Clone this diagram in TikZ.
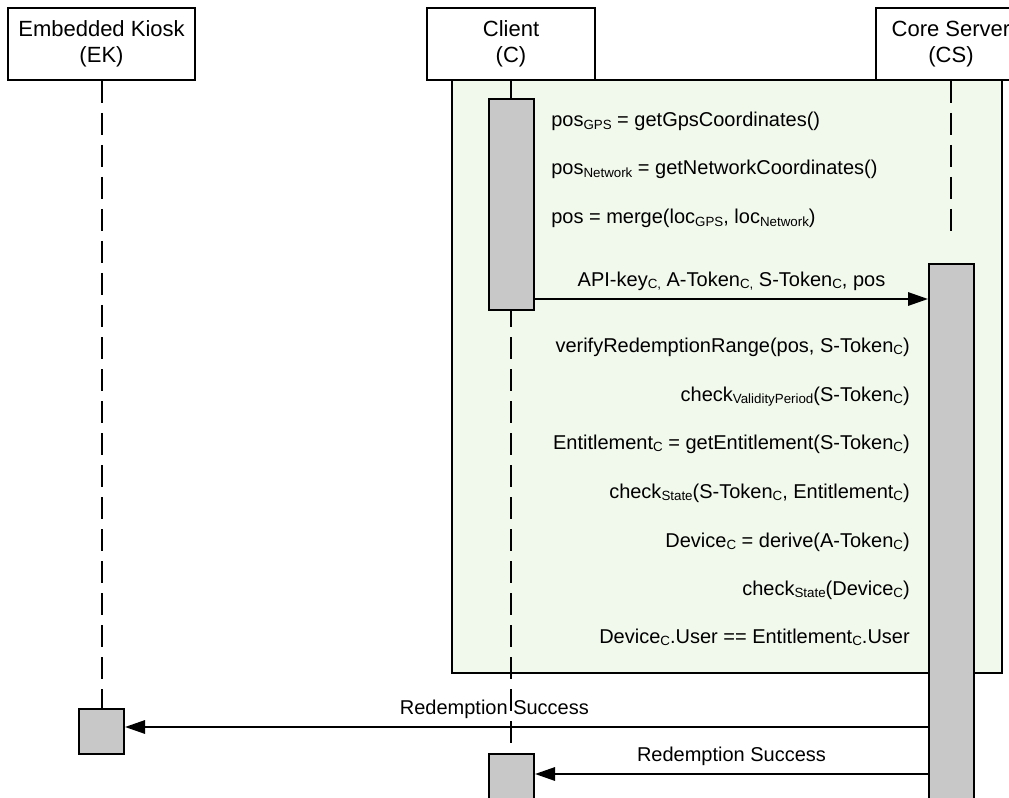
\documentclass[tikz,border=0pt]{standalone}
\usepackage{fontspec}
\setmainfont{Liberation Sans}
\usetikzlibrary{arrows.meta,positioning,backgrounds}
\definecolor{framegreen}{RGB}{241,248,236}
\definecolor{actgray}{RGB}{200,200,200}
\newcommand\sbs[1]{\raisebox{-2pt}{\fontsize{10}{10}\selectfont #1}}
\tikzset{
  head/.style   = {draw, line width=1.5pt, fill=white, align=center, minimum height=54pt,
                   inner sep=0pt, font=\fontsize{16.5}{19.5}\selectfont},
  act/.style    = {draw, line width=1.5pt, fill=actgray, minimum width=33.75pt, inner sep=0pt},
  life/.style   = {line width=1.5pt, dash pattern=on 16.5pt off 7.5pt},
  msg/.style    = {line width=1.5pt, -{Triangle[length=15pt,width=10pt]}},
  lbl/.style    = {font=\fontsize{15}{18}\selectfont, inner sep=0pt},
  mlabel/.style = {lbl, anchor=base, yshift=9.5pt},
  group/.style  = {draw, line width=1.5pt, fill=framegreen},
}

\begin{document}
\begin{tikzpicture}[x=0.75pt, y=-0.75pt]
  \useasboundingbox (0,0) rectangle (1009,798);

  % participants
  \node[head, minimum width=140.25pt] (hEK) at (101.5,44) {Embedded Kiosk\\(EK)};
  \node[head, minimum width=126pt]    (hC)  at (511,44)   {Client\\(C)};
  \node[head, minimum width=112.5pt]  (hCS) at (951,44)   {Core Server\\(CS)};

  % activations
  \node[act, anchor=north, minimum height=158.25pt] (actC1) at (511.5,98)  {};
  \node[act, anchor=north, minimum height=420pt]    (actCS) at (951.5,263) {};
  \node[act, anchor=north, minimum height=33.75pt]  (actEK) at (101.5,708) {};
  \node[act, anchor=north, minimum height=45pt]     (actC2) at (511.5,753) {};
  \coordinate (endC) at (511,798);
  \coordinate (endCS) at (951,231);

  % frame and lifelines
  \begin{scope}[on background layer]
    \draw[group] (452,80) rectangle (1002,673);
    \draw[life] (hEK.south) -- (actEK.north);
    \draw[life] (hC.south) -- (endC);
    \draw[life] (hCS.south) -- (endCS);
  \end{scope}

  % client side
  \node[lbl, anchor=base west] (gps) at (551,127) {pos\sbs{GPS} = getGpsCoordinates()};
  \node[lbl, anchor=base west] (net) at (551,175) {pos\sbs{Network} = getNetworkCoordinates()};
  \node[lbl, anchor=base west] (mrg) at (551,224) {pos = merge(loc\sbs{GPS}, loc\sbs{Network})};

  \coordinate (m1) at (0,299);
  \draw[msg] (actC1.east |- m1) -- node[mlabel] {API-key\sbs{C,} A-Token\sbs{C,} S-Token\sbs{C}, pos} (actCS.west |- m1);

  % server checks
  \node[lbl, anchor=base east] (vrr) at (910,352) {verifyRedemptionRange(pos, S-Token\sbs{C})};
  \node[lbl, anchor=base east] (cvp) at (910,401) {check\sbs{ValidityPeriod}(S-Token\sbs{C})};
  \node[lbl, anchor=base east] (ent) at (910,449) {Entitlement\sbs{C} = getEntitlement(S-Token\sbs{C})};
  \node[lbl, anchor=base east] (cst) at (910,498) {check\sbs{State}(S-Token\sbs{C}, Entitlement\sbs{C})};
  \node[lbl, anchor=base east] (dev) at (910,547) {Device\sbs{C} = derive(A-Token\sbs{C})};
  \node[lbl, anchor=base east] (cds) at (910,595) {check\sbs{State}(Device\sbs{C})};
  \node[lbl, anchor=base east] (usr) at (910,643) {Device\sbs{C}.User == Entitlement\sbs{C}.User};

  % responses
  \coordinate (m2) at (0,727);
  \coordinate (m3) at (0,774);
  \draw[msg] (actCS.west |- m2) -- node[mlabel, pos=0.54] {Redemption Success} (actEK.east |- m2);
  \draw[msg] (actCS.west |- m3) -- node[mlabel] {Redemption Success} (actC2.east |- m3);
\end{tikzpicture}
\end{document}
